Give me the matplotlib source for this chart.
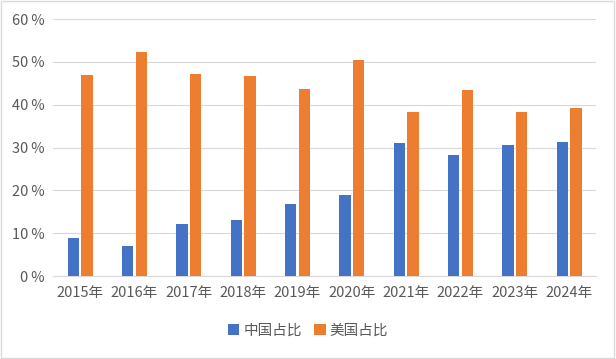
import numpy as np
import matplotlib.pyplot as plt
from matplotlib.patches import Rectangle

plt.rcParams['font.family'] = ['Noto Sans CJK SC', 'DejaVu Sans']

# 数据
years = ['2015年', '2016年', '2017年', '2018年', '2019年',
         '2020年', '2021年', '2022年', '2023年', '2024年']
china = [8.9, 7.0, 12.2, 13.1, 16.8, 18.9, 31.1, 28.3, 30.6, 31.3]
usa = [47.0, 52.4, 47.2, 46.8, 43.7, 50.5, 38.3, 43.5, 38.3, 39.3]
yticks = [0, 10, 20, 30, 40, 50, 60]

fig = plt.figure(figsize=(6.16, 3.59), dpi=100)
ax = fig.add_axes([0.086, 0.231, 0.882, 0.716])

x = np.arange(len(years))
w = 0.21
ax.bar(x - 0.125, china, w, color='#4472C4', label='中国占比', zorder=3)
ax.bar(x + 0.125, usa, w, color='#ED7D31', label='美国占比', zorder=3)

ax.set_xlim(-0.5, len(years) - 0.5)
ax.set_ylim(0, 60)
ax.set_yticks(yticks)
ax.set_yticklabels(['%d\u2009%%' % v for v in yticks])
ax.set_xticks(x)
ax.set_xticklabels(years)
ax.tick_params(axis='both', length=0, labelsize=10.5, colors='#595959')
ax.tick_params(axis='x', pad=7)
ax.tick_params(axis='y', pad=6)
ax.grid(axis='y', color='#D9D9D9', linewidth=0.8, zorder=0)
for s in ['top', 'right', 'left']:
    ax.spines[s].set_visible(False)
ax.spines['bottom'].set_color('#D9D9D9')

ax.legend(loc='center', bbox_to_anchor=(0.5, 0.08), bbox_transform=fig.transFigure,
          ncol=2, frameon=False, fontsize=10.5, handlelength=0.8, handleheight=0.8,
          handletextpad=0.3, columnspacing=0.8, labelcolor='#595959')

# 外框
fig.patches.append(Rectangle((0.002, 0.003), 0.995, 0.993, transform=fig.transFigure,
                             fill=False, edgecolor='#D9D9D9', linewidth=1))

fig.savefig('out.png', dpi=100, facecolor='white')
